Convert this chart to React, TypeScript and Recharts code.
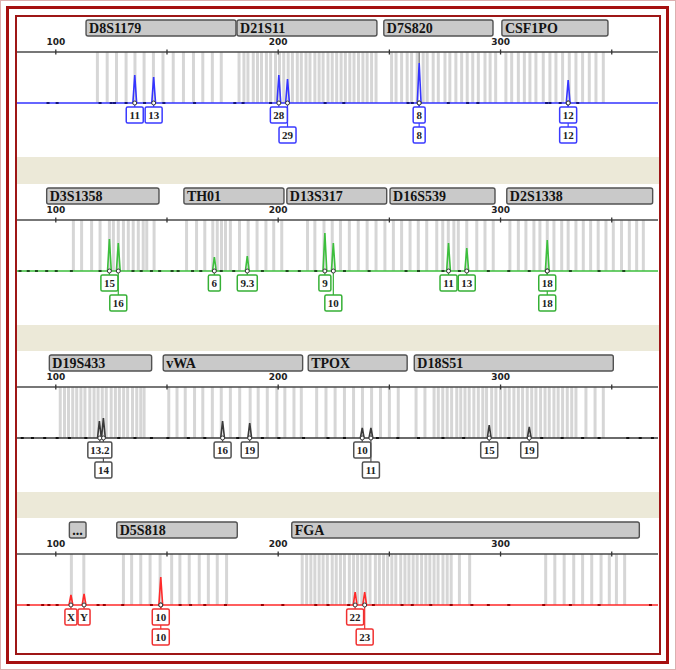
import React from "react";
import {
  ComposedChart,
  Line,
  Scatter,
  XAxis,
  YAxis,
  ReferenceLine,
  ReferenceArea,
} from "recharts";

// x axis in base pairs, y in rfu-ish pixels (baseline = 0)
const X_DOMAIN: [number, number] = [82.55, 370.8];
const Y_DOMAIN: [number, number] = [-54, 51];
const BP_TICKS = [100, 150, 200, 250, 300, 350];

type Locus = { name: string; from: number; to: number };
type Peak = { bp: number; h: number };
type Allele = { bp: number; text: string; row: 1 | 2 };

// ---------- blue dye ----------
const blueLoci: Locus[] = [
  { name: "D8S1179", from: 113.6, to: 181.0 },
  { name: "D21S11", from: 181.5, to: 244.4 },
  { name: "D7S820", from: 247.5, to: 296.6 },
  { name: "CSF1PO", from: 300.6, to: 348.3 },
];
const blueBins = [
  118.7, 123.1, 127.3, 131.6, 135.6, 139.7, 143.9, 148.2, 152.8, 157.4, 161.9, 166.1, 170.4, 174.4,
  182.4, 184.6, 186.4, 188.8, 190.7, 192.5, 194.7, 196.6, 198.8, 200.6, 202.5, 204.5, 206.4, 208.6,
  210.4, 212.5, 214.3, 216.5, 218.4, 220.2, 222.4, 224.3, 226.3, 228.3, 230.2, 232.2, 234.1, 236.1,
  238.1, 240.0, 242.0, 244.0,
  251.0, 253.0, 255.5, 258.0, 260.0, 262.5, 265.2, 267.0, 269.7, 272.0, 275.0, 277.2, 279.9, 282.5,
  285.0, 287.5, 290.0, 293.0, 295.3, 297.8,
  302.4, 305.0, 308.0, 310.7, 313.2, 315.9, 319.2, 322.2, 324.9, 327.9, 330.9, 333.9, 336.9, 339.9,
  342.9, 346.2,
];
const bluePeaks: Peak[] = [
  { bp: 135.5, h: 28 },
  { bp: 144.0, h: 26 },
  { bp: 200.3, h: 28 },
  { bp: 204.2, h: 24 },
  { bp: 263.4, h: 40 },
  { bp: 330.4, h: 23 },
];
const blueAlleles: Allele[] = [
  { bp: 135.5, text: "11", row: 1 },
  { bp: 144.0, text: "13", row: 1 },
  { bp: 200.3, text: "28", row: 1 },
  { bp: 204.2, text: "29", row: 2 },
  { bp: 263.4, text: "8", row: 1 },
  { bp: 263.4, text: "8", row: 2 },
  { bp: 330.4, text: "12", row: 1 },
  { bp: 330.4, text: "12", row: 2 },
];
const blueNoise = [
  96.5, 100.6, 119.9, 124.9, 126.4, 131.6, 139.9, 148.6, 162.4, 180.5, 184.2, 196.6, 221.1, 229.5,
  258.4, 260.3, 276.5, 285.2, 289.8, 320.7, 322.2, 326.8, 334.7,
];

// ---------- green dye ----------
const greenLoci: Locus[] = [
  { name: "D3S1358", from: 95.9, to: 146.4 },
  { name: "TH01", from: 157.6, to: 202.6 },
  { name: "D13S317", from: 203.9, to: 248.8 },
  { name: "D16S539", from: 250.3, to: 297.5 },
  { name: "D2S1338", from: 302.8, to: 368.4 },
];
const greenBins = [
  107.9, 111.6, 116.1, 119.9, 124.1, 125.9, 128.1, 130.4, 132.6, 134.8, 137.1, 139.3, 140.9, 144.2,
  158.8, 163.3, 167.0, 170.6, 172.6, 174.5, 176.3, 178.5, 182.6, 186.5, 190.5, 194.5, 198.0, 201.6,
  213.2, 216.5, 220.6, 224.3, 228.0, 232.0, 236.0, 240.0, 244.0, 248.0, 251.8, 255.5, 259.3, 263.0,
  266.8, 271.3, 274.0, 276.5, 279.0, 281.0, 284.8, 289.3, 293.0, 296.7,
  304.2, 308.0, 311.4, 315.0, 317.7, 321.0, 324.0, 327.5, 330.4, 333.9, 337.2, 340.5, 343.9, 347.4,
  350.7, 354.4, 357.9, 361.2, 364.2,
];
const greenPeaks: Peak[] = [
  { bp: 124.1, h: 32 },
  { bp: 128.1, h: 28 },
  { bp: 171.3, h: 14 },
  { bp: 186.1, h: 15 },
  { bp: 221.0, h: 38 },
  { bp: 224.8, h: 28 },
  { bp: 276.6, h: 28 },
  { bp: 284.8, h: 23 },
  { bp: 321.0, h: 31 },
];
const greenAlleles: Allele[] = [
  { bp: 124.1, text: "15", row: 1 },
  { bp: 128.1, text: "16", row: 2 },
  { bp: 171.3, text: "6", row: 1 },
  { bp: 186.1, text: "9.3", row: 1 },
  { bp: 221.0, text: "9", row: 1 },
  { bp: 224.8, text: "10", row: 2 },
  { bp: 276.6, text: "11", row: 1 },
  { bp: 284.8, text: "13", row: 1 },
  { bp: 321.0, text: "18", row: 1 },
  { bp: 321.0, text: "18", row: 2 },
];
const greenNoise = [
  83.9, 87.6, 91.3, 95.9, 100.2, 107.0, 119.9, 134.7, 138.4, 143.0, 146.7, 152.3, 155.0, 161.5,
  165.2, 174.4, 180.0, 192.9, 204.0, 209.5, 216.9, 229.8, 240.9, 257.5, 263.1, 274.1, 281.5, 294.5,
  303.7, 312.9, 331.4, 344.3, 355.4,
];

// ---------- black (yellow) dye ----------
const blackLoci: Locus[] = [
  { name: "D19S433", from: 97.1, to: 143.1 },
  { name: "vWA", from: 148.3, to: 211.0 },
  { name: "TPOX", from: 213.5, to: 258.0 },
  { name: "D18S51", from: 261.2, to: 350.7 },
];
const blackBins = [
  102.0, 103.9, 105.7, 107.6, 109.4, 111.3, 113.1, 115.3, 117.2, 119.0, 120.9, 122.7, 124.9, 126.8,
  128.6, 130.5, 132.3, 134.5, 136.4, 138.2, 139.7,
  150.8, 154.5, 158.2, 162.4, 166.1, 170.4, 174.4, 178.5, 182.7, 187.4, 191.0, 195.1, 199.4, 203.0,
  207.1, 210.4,
  217.3, 221.5, 225.6, 229.8, 233.9, 237.9, 242.0, 246.0, 250.0, 254.0,
  262.0, 266.0, 270.1, 272.0, 274.0, 276.0, 278.0, 280.3, 282.1, 284.0, 285.9, 288.0, 290.0, 292.0,
  293.7, 296.0, 297.9, 300.0, 302.0, 303.9, 306.0, 308.0, 309.9, 312.0, 314.0, 315.9, 318.0, 320.0,
  321.9, 324.0, 325.9, 327.9, 330.0, 332.0, 333.9, 338.4, 342.5, 346.2,
];
const blackPeaks: Peak[] = [
  { bp: 119.6, h: 17 },
  { bp: 121.4, h: 20 },
  { bp: 175.0, h: 17 },
  { bp: 187.2, h: 15 },
  { bp: 237.8, h: 10 },
  { bp: 241.7, h: 10 },
  { bp: 294.9, h: 13 },
  { bp: 312.9, h: 11 },
];
const blackAlleles: Allele[] = [
  { bp: 119.8, text: "13.2", row: 1 },
  { bp: 121.4, text: "14", row: 2 },
  { bp: 175.0, text: "16", row: 1 },
  { bp: 187.2, text: "19", row: 1 },
  { bp: 237.8, text: "10", row: 1 },
  { bp: 241.7, text: "11", row: 2 },
  { bp: 294.9, text: "15", row: 1 },
  { bp: 312.9, text: "19", row: 1 },
];
const blackNoise = [
  84.9, 89.5, 95.0, 100.6, 106.1, 113.5, 128.3, 135.6, 143.0, 150.4, 159.6, 167.0, 181.8, 192.9,
  200.3, 211.4, 222.4, 229.8, 244.6, 253.8, 263.1, 274.1, 283.4, 303.7, 318.5, 327.7, 336.9, 344.3,
  357.2, 362.8, 368.3,
];

// ---------- red dye ----------
const redLoci: Locus[] = [
  { name: "...", from: 106.1, to: 113.6 },
  { name: "D5S818", from: 127.4, to: 181.6 },
  { name: "FGA", from: 206.1, to: 362.4 },
];
const redBins = [
  107.0, 112.6,
  130.4, 134.1, 138.2, 142.4, 146.9, 152.1, 155.8, 160.0, 164.5, 168.6, 172.6, 176.8,
  210.8, 212.8, 214.7, 216.5, 218.4, 220.2, 222.1, 224.3, 226.1, 228.0, 229.8, 232.0, 233.9, 235.7,
  237.6, 239.4, 241.3, 243.7, 245.5, 247.4, 249.2, 251.1, 252.9, 255.1, 257.0, 258.8, 260.7, 262.5,
  264.5, 266.4, 268.2, 270.1, 271.9, 274.1, 276.0, 277.8, 281.5, 286.1,
  320.3, 324.4, 328.6, 332.9, 336.9, 341.0, 345.2, 348.9, 352.1, 355.8,
];
const redPeaks: Peak[] = [
  { bp: 106.8, h: 10 },
  { bp: 112.7, h: 11 },
  { bp: 147.2, h: 28 },
  { bp: 234.6, h: 13 },
  { bp: 238.9, h: 13 },
];
const redAlleles: Allele[] = [
  { bp: 106.8, text: "X", row: 1 },
  { bp: 112.7, text: "Y", row: 1 },
  { bp: 147.2, text: "10", row: 1 },
  { bp: 147.2, text: "10", row: 2 },
  { bp: 234.6, text: "22", row: 1 },
  { bp: 238.9, text: "23", row: 2 },
];
const redNoise = [
  87.6, 94.1, 96.9, 100.6, 119.0, 121.8, 130.1, 143.0, 155.9, 160.6, 167.0, 176.3, 192.9, 202.1,
  216.9, 222.4, 231.7, 242.8, 255.7, 260.3, 268.6, 277.8, 287.1, 294.5, 303.7, 319.4, 331.4, 344.3,
  367.4,
];

function buildTrace(peaks: Peak[]) {
  const pts = [
    { x: X_DOMAIN[0], y: 0 },
    { x: X_DOMAIN[1], y: 0 },
  ];
  peaks.forEach((p) => {
    pts.push({ x: p.bp - 0.85, y: 0 }, { x: p.bp, y: p.h }, { x: p.bp + 0.85, y: 0 });
  });
  return pts.sort((a, b) => a.x - b.x);
}

function BpTick(props: any) {
  const { x, y, payload } = props;
  const v = payload.value;
  return (
    <g>
      <line x1={x} x2={x} y1={y - 2.5} y2={y + 2.5} stroke="#333" strokeWidth={1.3} />
      {v % 100 === 0 && (
        <text
          x={x}
          y={y - 7}
          textAnchor="middle"
          fontFamily="DejaVu Sans"
          fontWeight="bold"
          fontSize={9}
          fill="#222"
        >
          {v}
        </text>
      )}
    </g>
  );
}

const HeaderBox = (p: any) => (
  <rect
    x={p.x}
    y={p.y}
    width={p.width}
    height={p.height}
    rx={2}
    fill="#c9c9c9"
    stroke="#525252"
    strokeWidth={1.4}
  />
);

function AlleleBox(props: any) {
  const { cx, cy, payload, color } = props;
  const n = payload.text.length;
  const w = n === 1 ? 12 : n === 2 ? 17 : n === 3 ? 20 : 24;
  const lead = payload.row === 1 ? 12 : 32;
  return (
    <g>
      <line x1={cx} x2={cx} y1={cy - lead} y2={cy - 8} stroke={color} strokeWidth={1.2} />
      <circle cx={cx} cy={cy - lead} r={2} fill="#fff" stroke="#333" strokeWidth={1} />
      <rect
        x={cx - w / 2}
        y={cy - 8}
        width={w}
        height={16}
        rx={1.5}
        fill="#fff"
        stroke={color}
        strokeWidth={1.5}
      />
      <text
        x={cx}
        y={cy + 4}
        textAnchor="middle"
        fontFamily="Liberation Serif"
        fontWeight="bold"
        fontSize={11}
        fill="#222"
      >
        {payload.text}
      </text>
    </g>
  );
}

type PanelProps = {
  loci: Locus[];
  bins: number[];
  peaks: Peak[];
  alleles: Allele[];
  noise: number[];
  color: string;
  dark: string;
  boxColor: string;
  height: number;
  axisH: number;
  cursor?: Peak;
};

function Panel({ loci, bins, peaks, alleles, noise, color, dark, boxColor, height, axisH, cursor }: PanelProps) {
  const trace = buildTrace(peaks);
  const boxes = [...alleles]
    .sort((a, b) => b.row - a.row)
    .map((a) => ({ x: a.bp, y: a.row === 1 ? -12 : -32, text: a.text, row: a.row }));
  const dots = noise.map((x) => ({ x, y: 0 }));
  return (
    <ComposedChart width={641} height={height} margin={{ top: 0, right: 0, bottom: 0, left: 0 }}>
      <XAxis
        type="number"
        dataKey="x"
        orientation="top"
        domain={X_DOMAIN}
        allowDataOverflow
        ticks={BP_TICKS}
        interval={0}
        height={axisH}
        tickLine={false}
        tickSize={0}
        tickMargin={0}
        axisLine={{ stroke: "#4a4a4a", strokeWidth: 1.5 }}
        tick={<BpTick />}
      />
      <YAxis type="number" dataKey="y" domain={Y_DOMAIN} allowDataOverflow hide />
      {loci.map((l) => (
        <ReferenceArea
          key={l.name}
          x1={l.from}
          x2={l.to}
          y1={67}
          y2={83}
          ifOverflow="visible"
          shape={HeaderBox}
          label={{
            value: l.name,
            position: "insideLeft",
            offset: 3,
            fill: "#141414",
            fontSize: 14,
            fontWeight: "bold",
            fontFamily: "Liberation Serif",
          }}
        />
      ))}
      {bins.map((b, i) => (
        <ReferenceLine
          key={i}
          segment={[
            { x: b, y: 0 },
            { x: b, y: 51 },
          ]}
          stroke="#d6d6d6"
          strokeWidth={3}
        />
      ))}
      {cursor && (
        <ReferenceLine
          segment={[
            { x: cursor.bp, y: cursor.h },
            { x: cursor.bp, y: 51 },
          ]}
          stroke="#555"
          strokeWidth={1}
        />
      )}
      <Line
        data={trace}
        dataKey="y"
        type="linear"
        stroke={color}
        strokeWidth={1.6}
        dot={false}
        activeDot={false}
        isAnimationActive={false}
      />
      <Scatter
        data={dots}
        isAnimationActive={false}
        shape={(p: any) => <rect x={p.cx - 1.5} y={p.cy - 1} width={3} height={2} fill={dark} />}
      />
      <Scatter
        data={boxes}
        isAnimationActive={false}
        shape={(p: any) => <AlleleBox {...p} color={boxColor} />}
      />
    </ComposedChart>
  );
}

const Band = ({ h }: { h: number }) => <div style={{ height: h, background: "#ECE9D8" }} />;

export default function App() {
  return (
    <div
      style={{
        position: "absolute",
        left: 0,
        top: 0,
        width: 676,
        height: 670,
        background: "#fff",
        border: "1px solid #dcb0b0",
        boxSizing: "border-box",
      }}
    >
      <div
        style={{
          position: "absolute",
          left: 5,
          top: 5,
          width: 663,
          height: 658,
          border: "3px solid #a60f0f",
          boxSizing: "border-box",
        }}
      />
      <div
        style={{
          position: "absolute",
          left: 14,
          top: 14,
          width: 646,
          height: 640,
          border: "2px solid #9e1616",
          boxSizing: "border-box",
          overflow: "hidden",
          background: "#fff",
        }}
      >
        <Panel
          loci={blueLoci}
          bins={blueBins}
          peaks={bluePeaks}
          alleles={blueAlleles}
          noise={blueNoise}
          color="#3535ff"
          dark="#15157a"
          boxColor="#3a3aff"
          height={140}
          axisH={35}
          cursor={bluePeaks[4]}
        />
        <Band h={27} />
        <Panel
          loci={greenLoci}
          bins={greenBins}
          peaks={greenPeaks}
          alleles={greenAlleles}
          noise={greenNoise}
          color="#3cbf3c"
          dark="#1f4a1f"
          boxColor="#36b036"
          height={141}
          axisH={36}
        />
        <Band h={26} />
        <Panel
          loci={blackLoci}
          bins={blackBins}
          peaks={blackPeaks}
          alleles={blackAlleles}
          noise={blackNoise}
          color="#3a3a3a"
          dark="#111"
          boxColor="#505050"
          height={141}
          axisH={36}
        />
        <Band h={26} />
        <Panel
          loci={redLoci}
          bins={redBins}
          peaks={redPeaks}
          alleles={redAlleles}
          noise={redNoise}
          color="#ff2a2a"
          dark="#9a0000"
          boxColor="#f03030"
          height={141}
          axisH={36}
        />
      </div>
    </div>
  );
}
